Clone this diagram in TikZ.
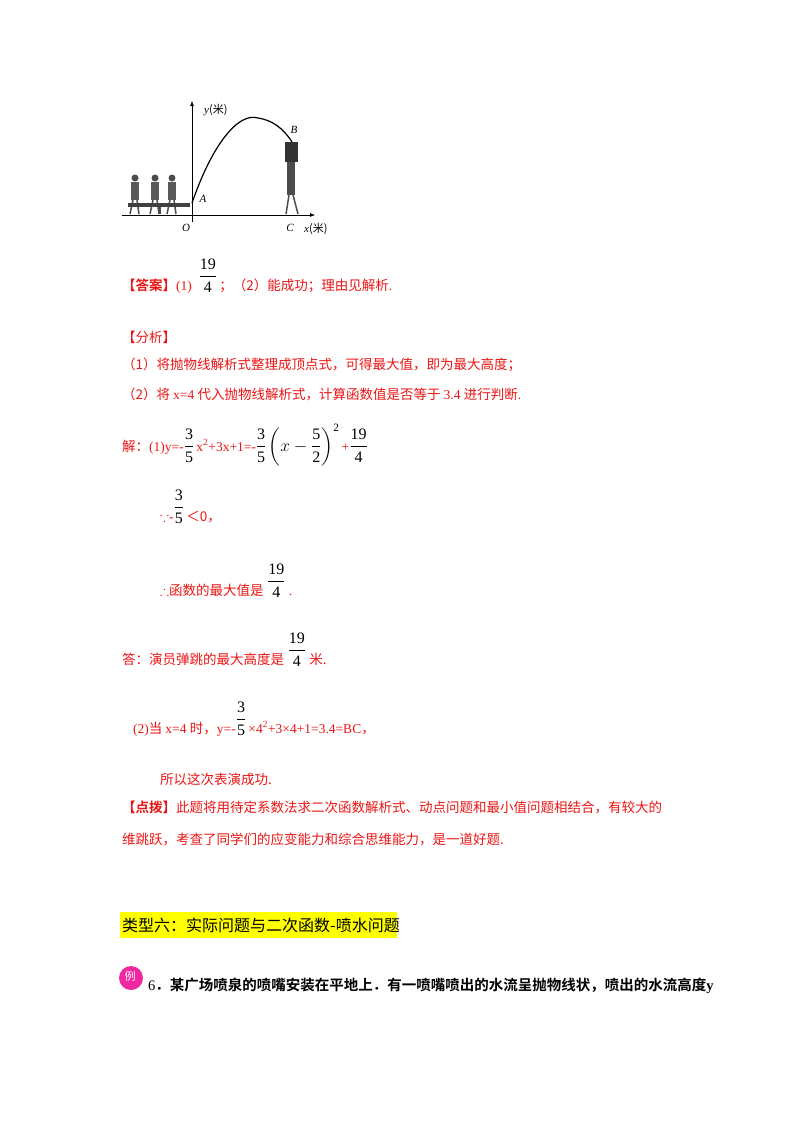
\documentclass[tikz,border=0pt]{standalone}
\usepackage{amsmath,amssymb}
\usepackage{fontspec}
\setmainfont{Liberation Serif}
\newfontfamily\cjk{Noto Sans CJK SC}
\newfontfamily\cjkb{Noto Sans CJK SC Bold}
\usetikzlibrary{arrows.meta}
\definecolor{ansred}{RGB}{235,20,20}
\definecolor{hl}{RGB}{255,255,0}
\definecolor{pinkc}{RGB}{240,40,160}
\newcommand{\fr}[2]{{\color{black}\fontsize{16}{18}\selectfont$\dfrac{\text{#1}}{\text{#2}}$}}
\newcommand{\hfr}[2]{\raisebox{9pt}{\fr{#1}{#2}}}
\begin{document}
\begin{tikzpicture}[x=1pt,y=-1pt,
  t/.style={anchor=base west,inner sep=0pt,font=\fontsize{13.5}{15}\selectfont},
  r/.style={t,text=ansred},
  lab/.style={inner sep=0pt,font=\fontsize{11}{13}\selectfont\itshape}]
\useasboundingbox (0,0) rectangle (800,1132);
% graph
\coordinate (O) at (192,215);
\draw[-{Latex[length=5pt]}] (122,215) -- (315,215) coordinate (xe);
\draw[-{Latex[length=5pt]}] (192,222) -- (192,101) coordinate (ye);
\draw[line width=1.2pt] (192,203) .. controls (212,145) and (238,112) .. (258,118) .. controls (272,120) and (283,128) .. (292,142) coordinate (B);
\node[lab,anchor=west] (yl) at (204,110) {y\textup{\cjk(米)}};
\node[lab] (Bl) at (294,130) {B};
\node[lab] (Al) at (203,199) {A};
\node[lab] (Ol) at (186,228) {O};
\node[lab] (Cl) at (290,228) {C};
\node[lab,anchor=west] (xl) at (304,229) {x\textup{\cjk(米)}};
% figures (simplified)
\fill[black!80] (285,142) rectangle (298,162);
\fill[black!70] (287,162) rectangle (295,195);
\draw[black!70,line width=1.5pt] (289,195) -- (286,214) (293,195) -- (298,214);
\foreach \px in {135,155,172}{
  \fill[black!70] (\px,178) circle (3.5);
  \fill[black!65] (\px-4,182) rectangle (\px+4,200);
  \draw[black!70,line width=1.5pt] (\px-2,200) -- (\px-5,214) (\px+2,200) -- (\px+4,214);
}
\fill[black!75] (128,203) rectangle (190,207);
\draw[black!70,line width=1.5pt] (160,207) -- (160,214);
% answer
\node[r] (a1) at (122,290) {\cjkb【答案】\normalfont(1)\ \ \hfr{19}{4}\,\cjk；（2）能成功；理由见解析\normalfont.};
\node[r] (f0) at (122,342) {\cjk【分析】};
\node[r] (f1) at (122,369) {\cjk（1）将抛物线解析式整理成顶点式，可得最大值，即为最大高度；};
\node[r] (f2) at (122,399) {\cjk（2）将 \normalfont x=4 \cjk 代入抛物线解析式，计算函数值是否等于 \normalfont 3.4 \cjk 进行判断\normalfont.};
\node[r] (s1) at (122,451) {\cjk 解：\normalfont(1)y=-\fr{3}{5}\,x\textsuperscript{2}+3x+1=-\fr{3}{5}\,{\color{black}\fontsize{16}{18}\selectfont$\left(x-\dfrac{\text{5}}{\text{2}}\right)^{\text{2}}$}\,+\fr{19}{4}};
\node[r] (s2) at (160,521) {$\because$-\hfr{3}{5}\,\cjk＜0，};
\node[r] (s3) at (160,595) {$\therefore$\cjk 函数的最大值是\normalfont\ \hfr{19}{4}\ .};
\node[r] (s4) at (122,664) {\cjk 答：演员弹跳的最大高度是\normalfont\ \hfr{19}{4}\ \cjk 米.};
\node[r] (s5) at (133,733) {\normalfont(2)\cjk 当 \normalfont x=4 \cjk 时，\normalfont y=-\hfr{3}{5}\,×4\textsuperscript{2}+3×4+1=3.4=BC\cjk，};
\node[r] (s6) at (160,784) {\cjk 所以这次表演成功.};
\node[r] (d1) at (122,812) {\cjkb【点拨】\cjk 此题将用待定系数法求二次函数解析式、动点问题和最小值问题相结合，有较大的};
\node[r] (d2) at (122,844) {\cjk 维跳跃，考查了同学们的应变能力和综合思维能力，是一道好题.};
% section header
\fill[hl] (120,912) rectangle (397,938);
\node[t,font=\fontsize{16}{18}\selectfont] (h) at (122,931) {\cjk 类型六：实际问题与二次函数-喷水问题};
% example
\fill[pinkc] (131,978) circle (12);
\node[inner sep=0pt,text=white,font=\fontsize{11}{13}\selectfont] (li) at (130,976) {\cjk 例};
\node[t,font=\fontsize{14.5}{16}\selectfont] (e1) at (148,990) {6\cjkb．某广场喷泉的喷嘴安装在平地上．有一喷嘴喷出的水流呈抛物线状，喷出的水流高度\normalfont\bfseries y};
\end{tikzpicture}
\end{document}
